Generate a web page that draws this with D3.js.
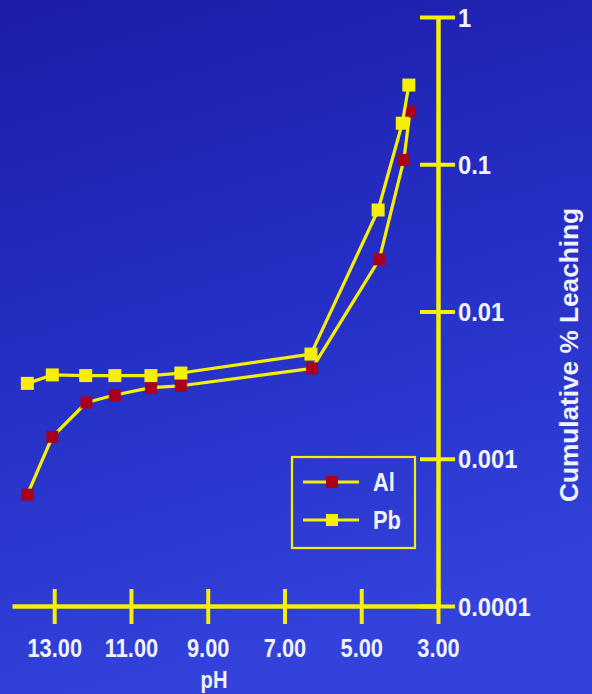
<!DOCTYPE html>
<html>
<head>
<meta charset="utf-8">
<script src="https://cdn.jsdelivr.net/npm/d3@7"></script>
<style>
  html, body { margin: 0; padding: 0; background: #2430bf; }
  svg { display: block; }
  text { font-family: "Liberation Sans", Arial, Helvetica, sans-serif; font-weight: bold; fill: #f2f2ff; }
</style>
</head>
<body>
<svg id="chart" width="592" height="694"></svg>
<script>
// ---- Data ----
const phAl = [13.70, 13.05, 12.16, 11.42, 10.48, 9.70, 6.28, 4.53, 3.89, 3.73];
const al   = [0.00057, 0.00141, 0.00241, 0.00271, 0.00304, 0.00313, 0.00411, 0.0226, 0.107, 0.228];
const phPb = [13.70, 13.05, 12.18, 11.42, 10.48, 9.70, 6.31, 4.56, 3.93, 3.76];
const pb   = [0.00325, 0.00371, 0.00367, 0.00367, 0.00367, 0.00382, 0.00514, 0.0489, 0.190, 0.345];
const xTicks = [13, 11, 9, 7, 5, 3];
const yTicks = [1, 0.1, 0.01, 0.001, 0.0001];
const yTickLabels = ["1", "0.1", "0.01", "0.001", "0.0001"];
const seriesNames = ["Al", "Pb"];

const W = 592, H = 694;
const YELLOW = "#f4ee08";
const RED = "#a8001c";
const svg = d3.select("#chart");

// background gradient
const defs = svg.append("defs");
const grad = defs.append("linearGradient").attr("id", "bg").attr("x1", 0).attr("y1", 0).attr("x2", 0.25).attr("y2", 1);
grad.append("stop").attr("offset", "0%").attr("stop-color", "#1c1ca8");
grad.append("stop").attr("offset", "55%").attr("stop-color", "#2630c6");
grad.append("stop").attr("offset", "100%").attr("stop-color", "#3242da");
svg.append("rect").attr("width", W).attr("height", H).attr("fill", "url(#bg)");

// scales
const x = d3.scaleLinear().domain([14.1, 3]).range([12, 438]);
const y = d3.scaleLog().domain([1e-4, 1]).range([606, 17]);
const SX = 0.84; // condensed look

// x axis
const xAxis = svg.append("g").attr("transform", `translate(0,${y(1e-4)})`)
  .call(d3.axisBottom(x).tickValues(xTicks).tickFormat(d3.format(".2f")).tickSizeOuter(0));
xAxis.select(".domain").attr("stroke", YELLOW).attr("stroke-width", 4.5);
xAxis.selectAll(".tick line").attr("stroke", YELLOW).attr("stroke-width", 4).attr("y1", -17).attr("y2", 18);
xAxis.selectAll(".tick text")
  .attr("y", 0).attr("dy", null)
  .attr("transform", `translate(0,51) scale(${SX},1)`)
  .attr("font-size", 26).attr("fill", "#f2f2ff")
  .style("font-family", '"Liberation Sans", Arial, sans-serif').style("font-weight", "bold");

// y axis
const yAxis = svg.append("g").attr("transform", `translate(${x(3)},0)`)
  .call(d3.axisRight(y).tickValues(yTicks).tickFormat((d, i) => yTickLabels[i]).tickSizeOuter(0));
yAxis.select(".domain").attr("stroke", YELLOW).attr("stroke-width", 4.5);
yAxis.selectAll(".tick line").attr("stroke", YELLOW).attr("stroke-width", 4).attr("x1", -18).attr("x2", 17);
yAxis.selectAll(".tick text")
  .attr("x", 0).attr("dy", null).attr("y", 0)
  .attr("text-anchor", "start")
  .attr("transform", `translate(20,9) scale(0.95,1)`)
  .attr("font-size", 25).attr("fill", "#f2f2ff")
  .style("font-family", '"Liberation Sans", Arial, sans-serif').style("font-weight", "bold");

// axis titles
svg.append("text").attr("transform", `translate(214,688) scale(${SX},1)`)
  .attr("text-anchor", "middle").attr("font-size", 24).text("pH");
svg.append("text").attr("transform", `translate(578,355) rotate(-90)`)
  .attr("text-anchor", "middle").attr("font-size", 25)
  .attr("textLength", 294).attr("lengthAdjust", "spacingAndGlyphs")
  .text("Cumulative % Leaching");

// series
const line = d3.line().x(d => x(d[0])).y(d => y(d[1]));
const alPts = phAl.map((p, i) => [p, al[i]]);
const pbPts = phPb.map((p, i) => [p, pb[i]]);

svg.append("path").datum(alPts).attr("d", line).attr("fill", "none").attr("stroke", YELLOW).attr("stroke-width", 3.2).attr("stroke-linejoin", "round");
svg.selectAll(".alm").data(alPts).join("rect").attr("class", "alm")
  .attr("x", d => x(d[0]) - 6).attr("y", d => y(d[1]) - 6).attr("width", 12).attr("height", 12).attr("fill", RED);

svg.append("path").datum(pbPts).attr("d", line).attr("fill", "none").attr("stroke", YELLOW).attr("stroke-width", 3.2).attr("stroke-linejoin", "round");
svg.selectAll(".pbm").data(pbPts).join("rect").attr("class", "pbm")
  .attr("x", d => x(d[0]) - 6.5).attr("y", d => y(d[1]) - 6.5).attr("width", 13).attr("height", 13).attr("fill", YELLOW);

// legend
const lg = svg.append("g");
lg.append("rect").attr("x", 292).attr("y", 457).attr("width", 123).attr("height", 91)
  .attr("fill", "none").attr("stroke", YELLOW).attr("stroke-width", 2.2);
const legendColors = [RED, YELLOW];
seriesNames.forEach((name, i) => {
  const cy = 482 + i * 38;
  lg.append("line").attr("x1", 303).attr("x2", 359).attr("y1", cy).attr("y2", cy).attr("stroke", YELLOW).attr("stroke-width", 3.2);
  lg.append("rect").attr("x", 326).attr("y", cy - 6).attr("width", 12).attr("height", 12).attr("fill", legendColors[i]);
  lg.append("text").attr("transform", `translate(373,${cy + 9}) scale(${SX},1)`).attr("font-size", 26).text(name);
});
</script>
</body>
</html>
